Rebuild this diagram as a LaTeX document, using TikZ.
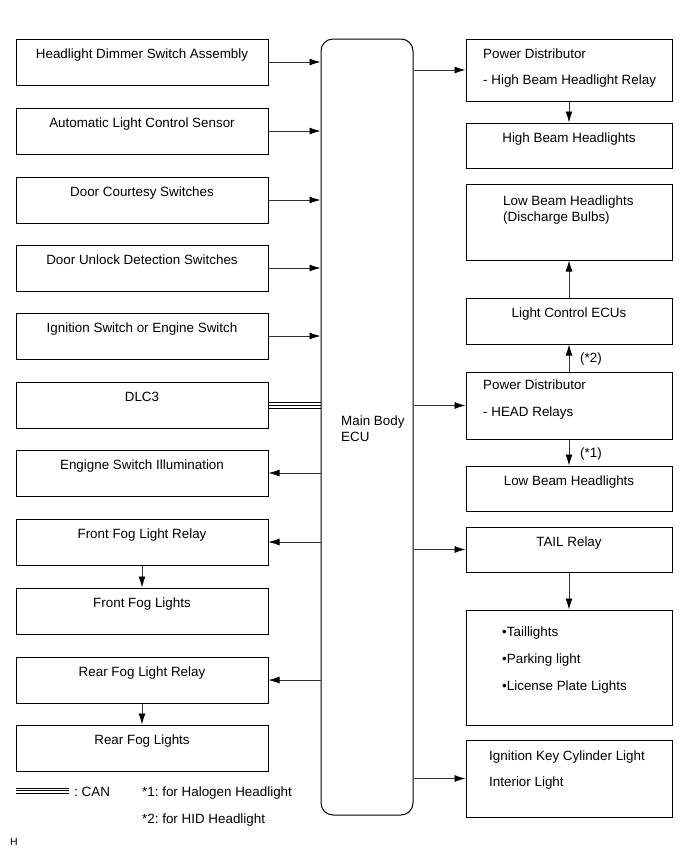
\documentclass[tikz,border=0pt]{standalone}
\usepackage{fontspec}
\setmainfont{Liberation Sans}
\usetikzlibrary{arrows.meta}
\usetikzlibrary{positioning}
\frenchspacing

\begin{document}
\begin{tikzpicture}[x=1pt, y=-1pt, >={Latex[length=11pt,width=7pt,color=black]}, font=\fontsize{13.4}{15}\selectfont]

    \tikzstyle{unit}=[draw, line width=1pt, inner sep=0pt];
    \tikzstyle{lbox}=[unit, minimum width=252pt, minimum height=46pt];
    \tikzstyle{rbox}=[unit, minimum width=206pt];
    \tikzstyle{txt}=[inner sep=0pt, text height=9pt, text depth=3pt];
    \tikzstyle{wire}=[draw=black!80, line width=0.8pt];

    \useasboundingbox (0,0) rectangle (691,855);

    % left column
    \node [lbox](hds) at (142, 62){};
    \node [lbox](alc) at (142, 131){};
    \node [lbox](dcs) at (142, 200){};
    \node [lbox](dud) at (142, 268){};
    \node [lbox](ign) at (142, 336){};
    \node [lbox](dlc) at (142, 405){};
    \node [lbox](esi) at (142, 473){};
    \node [lbox](ffr) at (142, 542){};
    \node [lbox](ffl) at (142, 611){};
    \node [lbox](rfr) at (142, 680){};
    \node [lbox](rfl) at (142, 748){};

    \node [txt](hds-t) at ([yshift=-17pt]hds.north){Headlight Dimmer Switch Assembly};
    \node [txt](alc-t) at ([yshift=-17pt]alc.north){Automatic Light Control Sensor};
    \node [txt](dcs-t) at ([yshift=-17pt]dcs.north){Door Courtesy Switches};
    \node [txt](dud-t) at ([yshift=-17pt]dud.north){Door Unlock Detection Switches};
    \node [txt](ign-t) at ([yshift=-17pt]ign.north){Ignition Switch or Engine Switch};
    \node [txt](dlc-t) at ([yshift=-17pt]dlc.north){DLC3};
    \node [txt](esi-t) at ([yshift=-17pt]esi.north){Engigne Switch Illumination};
    \node [txt](ffr-t) at ([yshift=-17pt]ffr.north){Front Fog Light Relay};
    \node [txt](ffl-t) at ([yshift=-17pt]ffl.north){Front Fog Lights};
    \node [txt](rfr-t) at ([yshift=-17pt]rfr.north){Rear Fog Light Relay};
    \node [txt](rfl-t) at ([yshift=-17pt]rfl.north){Rear Fog Lights};

    % main body ECU
    \node [unit, rounded corners=12pt, minimum width=92pt, minimum height=776pt](ecu) at (367, 427){};
    \node [txt, anchor=west](ecu-t1) at (341, 422){Main Body};
    \node [txt, anchor=west](ecu-t2) at (341, 438){ECU};

    % right column
    \node [rbox, minimum height=62pt](pdh) at (569, 70){};
    \node [rbox, minimum height=45pt](hbh) at (569, 145.5){};
    \node [rbox, minimum height=76pt](lbd) at (569, 222){};
    \node [rbox, minimum height=46pt](lce) at (569, 321){};
    \node [rbox, minimum height=67pt](pdr) at (569, 405.5){};
    \node [rbox, minimum height=45pt](lbh) at (569, 488.5){};
    \node [rbox, minimum height=45pt](tlr) at (569, 549.5){};
    \node [rbox, minimum height=115pt](tll) at (569, 667.5){};
    \node [rbox, minimum height=77pt](ikc) at (569, 778.5){};

    \node [txt, anchor=west](pdh-t1) at (483, 55){Power Distributor};
    \node [txt, anchor=west](pdh-t2) at (483, 81){- High Beam Headlight Relay};
    \node [txt](hbh-t) at ([yshift=-17pt]hbh.north){High Beam Headlights};
    \node [txt, anchor=west](lbd-t1) at (503, 202){Low Beam Headlights};
    \node [txt, anchor=west](lbd-t2) at (503, 218.5){(Discharge Bulbs)};
    \node [txt](lce-t) at ([yshift=-17pt]lce.north){Light Control ECUs};
    \node [txt, anchor=west](pdr-t1) at (483, 386){Power Distributor};
    \node [txt, anchor=west](pdr-t2) at (483, 413){- HEAD Relays};
    \node [txt](lbh-t) at ([yshift=-17pt]lbh.north){Low Beam Headlights};
    \node [txt](tlr-t) at ([yshift=-17pt]tlr.north){TAIL Relay};
    \node [txt, anchor=west](tll-t1) at (502, 633){•Taillights};
    \node [txt, anchor=west](tll-t2) at (502, 660){•Parking light};
    \node [txt, anchor=west](tll-t3) at (502, 687){•License Plate Lights};
    \node [txt, anchor=west](ikc-t1) at (489, 757){Ignition Key Cylinder Light};
    \node [txt, anchor=west](ikc-t2) at (489, 783.5){Interior Light};

    % inputs
    \draw [->, wire] (hds) to (hds -| ecu.west);
    \draw [->, wire] (alc) to (alc -| ecu.west);
    \draw [->, wire] (dcs) to (dcs -| ecu.west);
    \draw [->, wire] (dud) to (dud -| ecu.west);
    \draw [->, wire] (ign) to (ign -| ecu.west);

    % CAN
    \draw [line width=0.9pt] ([yshift=3pt]dlc.east) to ([yshift=3pt]dlc.east -| ecu.west);
    \draw [line width=0.9pt] (dlc.east) to (dlc.east -| ecu.west);
    \draw [line width=0.9pt] ([yshift=-3pt]dlc.east) to ([yshift=-3pt]dlc.east -| ecu.west);

    % outputs
    \draw [->, wire] (ecu.west |- esi) to (esi);
    \draw [->, wire] (ecu.west |- ffr) to (ffr);
    \draw [->, wire] (ecu.west |- rfr) to (rfr);
    \draw [->, wire] (ffr) to (ffl);
    \draw [->, wire] (rfr) to (rfl);

    \draw [->, wire] (ecu.east |- pdh) to (pdh);
    \draw [->, wire] (ecu.east |- pdr) to (pdr);
    \draw [->, wire] (ecu.east |- tlr) to (tlr);
    \draw [->, wire] (ecu.east |- ikc) to (ikc);
    \draw [->, wire] (pdh) to (hbh);
    \draw [->, wire] (lce) to (lbd);
    \draw [->, wire] (pdr) to (lce);
    \draw [->, wire] (pdr) to (lbh);
    \draw [->, wire] (tlr) to (tll);

    \node [txt, anchor=west](n2) at (580, 359){(*2)};
    \node [txt, anchor=west](n1) at (580, 454.5){(*1)};

    % legend
    \draw [line width=0.9pt] (16, 788) -- (69, 788);
    \draw [line width=0.9pt] (16, 790.5) -- (69, 790.5);
    \draw [line width=0.9pt] (16, 793) -- (69, 793);
    \node [txt, anchor=west](can) at (74, 793){: CAN};
    \node [txt, anchor=west](fn1) at (142, 793){*1: for Halogen Headlight};
    \node [txt, anchor=west](fn2) at (142, 820){*2: for HID Headlight};
    \node [inner sep=0pt, anchor=west, font=\fontsize{10.5}{12}\selectfont](fig) at (10, 842){H};

\end{tikzpicture}
\end{document}
